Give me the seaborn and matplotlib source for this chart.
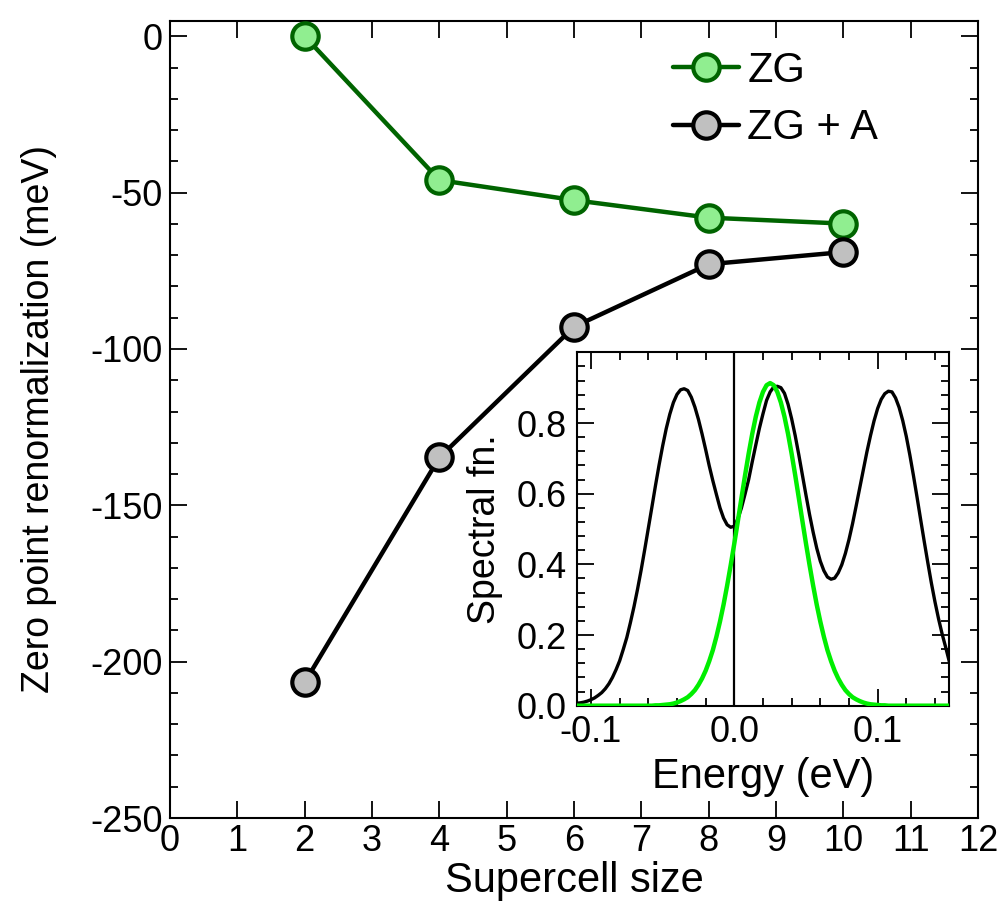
import numpy as np
import pandas as pd
import matplotlib
matplotlib.use("Agg")
import matplotlib.pyplot as plt
import seaborn as sns
from matplotlib.ticker import MultipleLocator, FormatStrFormatter

# main panel: zero point renormalization vs supercell size
supercell = [2, 4, 6, 8, 10]
zpr_zg = [0.0, -46.0, -52.4, -58.0, -59.9]
zpr_zga = [-206.6, -134.7, -92.9, -72.9, -69.0]

# inset: spectral function vs energy (eV)
energy = [-0.1100, -0.1075, -0.1050, -0.1025, -0.1000,
          -0.0975, -0.0950, -0.0925, -0.0900, -0.0875,
          -0.0850, -0.0825, -0.0800, -0.0775, -0.0750,
          -0.0725, -0.0700, -0.0675, -0.0650, -0.0625,
          -0.0600, -0.0575, -0.0550, -0.0525, -0.0500,
          -0.0475, -0.0450, -0.0425, -0.0400, -0.0375,
          -0.0350, -0.0325, -0.0300, -0.0275, -0.0250,
          -0.0225, -0.0200, -0.0175, -0.0150, -0.0125,
          -0.0100, -0.0075, -0.0050, -0.0025, 0.0000,
          0.0025, 0.0050, 0.0075, 0.0100, 0.0125,
          0.0150, 0.0175, 0.0200, 0.0225, 0.0250,
          0.0275, 0.0300, 0.0325, 0.0350, 0.0375,
          0.0400, 0.0425, 0.0450, 0.0475, 0.0500,
          0.0525, 0.0550, 0.0575, 0.0600, 0.0625,
          0.0650, 0.0675, 0.0700, 0.0725, 0.0750,
          0.0775, 0.0800, 0.0825, 0.0850, 0.0875,
          0.0900, 0.0925, 0.0950, 0.0975, 0.1000,
          0.1025, 0.1050, 0.1075, 0.1100, 0.1125,
          0.1150, 0.1175, 0.1200, 0.1225, 0.1250,
          0.1275, 0.1300, 0.1325, 0.1350, 0.1375,
          0.1400, 0.1425, 0.1450, 0.1475, 0.1500]
spec_zga = [0.007, 0.008, 0.010, 0.013, 0.017,
            0.022, 0.029, 0.037, 0.048, 0.062,
            0.080, 0.102, 0.127, 0.159, 0.193,
            0.235, 0.280, 0.330, 0.384, 0.442,
            0.502, 0.562, 0.623, 0.681, 0.735,
            0.784, 0.825, 0.858, 0.881, 0.894,
            0.897, 0.892, 0.873, 0.845, 0.810,
            0.769, 0.725, 0.679, 0.637, 0.598,
            0.560, 0.531, 0.512, 0.505, 0.508,
            0.529, 0.560, 0.599, 0.640, 0.690,
            0.738, 0.785, 0.826, 0.864, 0.888,
            0.902, 0.904, 0.900, 0.884, 0.853,
            0.812, 0.764, 0.710, 0.653, 0.596,
            0.541, 0.491, 0.446, 0.409, 0.382,
            0.364, 0.358, 0.361, 0.376, 0.399,
            0.431, 0.470, 0.515, 0.565, 0.616,
            0.667, 0.718, 0.764, 0.806, 0.841,
            0.867, 0.883, 0.890, 0.888, 0.871,
            0.844, 0.807, 0.762, 0.709, 0.651,
            0.590, 0.527, 0.465, 0.405, 0.347,
            0.294, 0.246, 0.203, 0.165, 0.125]
spec_zg = [0.0, 0.0, 0.0, 0.0, 0.0,
           0.0, 0.0, 0.0, 0.0, 0.0,
           0.0, 0.0, 0.0, 0.0, 0.0,
           0.0, 0.0, 0.0, 0.0, 0.0,
           0.0, 0.0, 0.001, 0.001, 0.002,
           0.003, 0.004, 0.006, 0.009, 0.013,
           0.018, 0.024, 0.033, 0.044, 0.059,
           0.077, 0.099, 0.126, 0.157, 0.195,
           0.238, 0.286, 0.340, 0.398, 0.459,
           0.523, 0.588, 0.652, 0.713, 0.769,
           0.818, 0.858, 0.888, 0.907, 0.913,
           0.907, 0.888, 0.858, 0.818, 0.769,
           0.713, 0.652, 0.588, 0.523, 0.459,
           0.398, 0.340, 0.286, 0.238, 0.195,
           0.157, 0.126, 0.099, 0.077, 0.059,
           0.044, 0.033, 0.024, 0.018, 0.013,
           0.009, 0.006, 0.004, 0.003, 0.002,
           0.001, 0.001, 0.0, 0.0, 0.0,
           0.0, 0.0, 0.0, 0.0, 0.0,
           0.0, 0.0, 0.0, 0.0, 0.0,
           0.0, 0.0, 0.0, 0.0, 0.0]

sns.set_style("ticks")
plt.rcParams['font.family'] = ['Liberation Sans', 'DejaVu Sans']
plt.rcParams['axes.linewidth'] = 1.5
plt.rcParams['axes.unicode_minus'] = False
for key in ['text.color', 'axes.labelcolor', 'xtick.color', 'ytick.color',
            'axes.edgecolor']:
    plt.rcParams[key] = 'black'

fig = plt.figure(figsize=(10.02, 9.06), dpi=100)
ax = fig.add_axes([0.1697, 0.0971, 0.8064, 0.8801])

main = pd.DataFrame({"size": supercell, "ZG": zpr_zg, "ZGA": zpr_zga})

sns.lineplot(data=main, x="size", y="ZG", ax=ax, color="#006400", lw=3.2,
             marker="o", ms=19, mfc="#90EE90", mec="#006400", mew=3,
             label="ZG", zorder=3)
sns.lineplot(data=main, x="size", y="ZGA", ax=ax, color="black", lw=3.2,
             marker="o", ms=19, mfc="#C0C0C0", mec="black", mew=3,
             label="ZG + A", zorder=3)

ax.set_xlim(0, 12)
ax.set_ylim(-250, 5)
ax.xaxis.set_major_locator(MultipleLocator(1))
ax.yaxis.set_major_locator(MultipleLocator(50))
ax.yaxis.set_minor_locator(MultipleLocator(10))
ax.tick_params(which="both", direction="in", top=True, right=True,
               width=1.3, labelsize=26)
ax.tick_params(which="major", length=12)
ax.tick_params(which="minor", length=6)
ax.tick_params(axis="x", pad=4)
ax.tick_params(axis="y", pad=5)
ax.set_xlabel("Supercell size", fontsize=30)
ax.set_ylabel("Zero point renormalization (meV)", fontsize=27)
ax.xaxis.set_label_coords(0.5, -0.054, transform=ax.transAxes)
ax.yaxis.set_label_coords(-0.14, 0.5, transform=ax.transAxes)

leg = ax.legend(loc="upper left", bbox_to_anchor=(0.6225, 0.962),
                frameon=False, fontsize=30, handlelength=1.58,
                handletextpad=0.2, labelspacing=0.42, borderpad=0,
                borderaxespad=0)

# inset
ins = fig.add_axes([0.5755, 0.2211, 0.3719, 0.3900])
ins.set_facecolor("white")
spec = pd.DataFrame({"E": energy, "zga": spec_zga, "zg": spec_zg})
ins.axvline(0.0, color="black", lw=1.6, zorder=1)
sns.lineplot(data=spec, x="E", y="zga", ax=ins, color="black", lw=2.4,
             zorder=2)
sns.lineplot(data=spec, x="E", y="zg", ax=ins, color="#00ee00", lw=3.2,
             zorder=3)
ins.set_xlim(-0.11, 0.15)
ins.set_ylim(0, 1.0)
ins.xaxis.set_major_locator(MultipleLocator(0.1))
ins.xaxis.set_minor_locator(MultipleLocator(0.02))
ins.yaxis.set_minor_locator(MultipleLocator(0.04))
ins.set_yticks([0.0, 0.2, 0.4, 0.6, 0.8])
ins.tick_params(which="both", direction="in", top=True, right=True,
                width=1.3, labelsize=26)
ins.tick_params(which="major", length=12, pad=7)
ins.tick_params(which="minor", length=6)
ins.xaxis.set_major_formatter(FormatStrFormatter("%.1f"))
ins.yaxis.set_major_formatter(FormatStrFormatter("%.1f"))
ins.set_xlabel("Energy (eV)", fontsize=30)
ins.set_ylabel("Spectral fn.", fontsize=27)
ins.xaxis.set_label_coords(0.5, -0.145, transform=ins.transAxes)
ins.yaxis.set_label_coords(-0.198, 0.5, transform=ins.transAxes)

fig.savefig("out.png", dpi=100)
